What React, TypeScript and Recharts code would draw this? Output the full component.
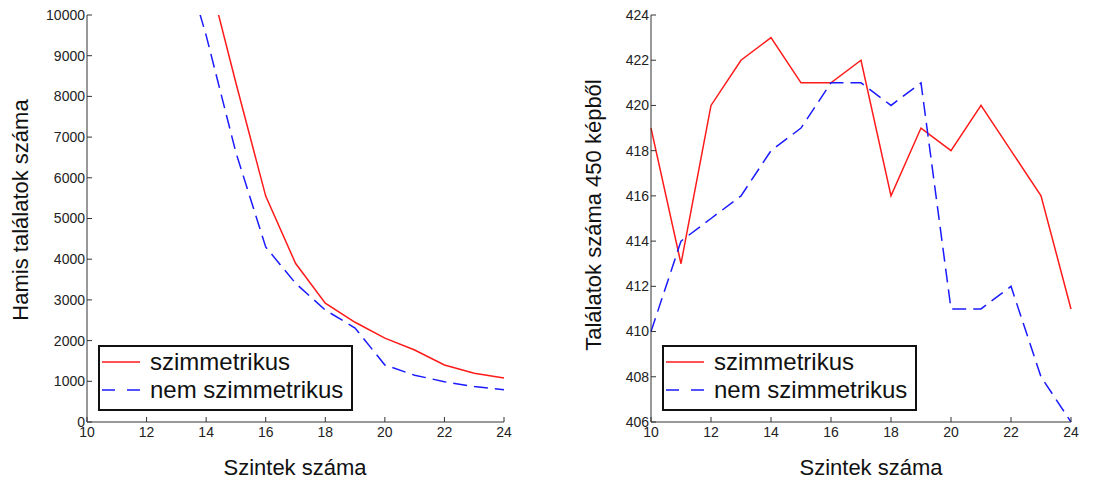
import React from 'react';
import { LineChart, Line, XAxis, YAxis, Legend, Label } from 'recharts';

const levels = [10, 11, 12, 13, 14, 15, 16, 17, 18, 19, 20, 21, 22, 23, 24];
// left chart: false matches (values above 10000 fall outside the visible range)
const falseSym = [38000, 27000, 19000, 14000, 11200, 8330, 5550, 3900, 2920, 2450, 2060, 1770, 1400, 1200, 1080];
const falseNonSym = [32000, 22000, 15500, 12000, 9500, 6620, 4300, 3410, 2750, 2310, 1400, 1150, 990, 870, 790];
// right chart: hits out of 450 images
const hitsSym = [419, 413, 420, 422, 423, 421, 421, 422, 416, 419, 418, 420, 418, 416, 411];
const hitsNonSym = [410, 414, 415, 416, 418, 419, 421, 421, 420, 421, 411, 411, 412, 408, 406];

const xTicks = [10, 12, 14, 16, 18, 20, 22, 24];
const leftYTicks = [0, 1000, 2000, 3000, 4000, 5000, 6000, 7000, 8000, 9000, 10000];
const rightYTicks = [406, 408, 410, 412, 414, 416, 418, 420, 422, 424];

const seriesNames = ['szimmetrikus', 'nem szimmetrikus'];
const xLabel = 'Szintek száma';
const leftYLabel = 'Hamis találatok száma';
const rightYLabel = 'Találatok száma 450 képből';

const leftData = levels.map((x, i) => ({ x, a: falseSym[i], b: falseNonSym[i] }));
const rightData = levels.map((x, i) => ({ x, a: hitsSym[i], b: hitsNonSym[i] }));

const FONT = '"Liberation Sans", Arial, sans-serif';
const RED = '#ff1a1a';
const BLUE = '#1a1aff';
const DASH = '14 7';
const FRAME = '#333';
const TICK_FS = 14;

const BottomTick = (p: any) => (
  <g>
    <line x1={p.x} y1={p.y} x2={p.x} y2={p.y - 5} stroke={FRAME} />
    <text x={p.x} y={p.y + 15} textAnchor="middle" fontSize={TICK_FS} fill="#222" fontFamily={FONT}>
      {p.payload.value}
    </text>
  </g>
);
const TopTick = (p: any) => (
  <line x1={p.x} y1={p.y} x2={p.x} y2={p.y + 5} stroke={FRAME} />
);
const LeftTick = (p: any) => (
  <g>
    <line x1={p.x} y1={p.y} x2={p.x + 5} y2={p.y} stroke={FRAME} />
    <text x={p.x - 2} y={p.y} dy="0.35em" textAnchor="end" fontSize={TICK_FS} fill="#222" fontFamily={FONT}>
      {p.payload.value}
    </text>
  </g>
);
const RightTick = (p: any) => (
  <line x1={p.x} y1={p.y} x2={p.x - 5} y2={p.y} stroke={FRAME} />
);

const LegendBox = () => (
  <div
    style={{
      width: 251,
      height: 62,
      border: '2px solid #111',
      background: '#fff',
      position: 'relative',
      fontFamily: FONT,
      fontSize: 24,
      color: '#111',
    }}
  >
    <svg width={44} height={62} style={{ position: 'absolute', left: 0, top: 0 }}>
      <line x1={2} y1={15} x2={40} y2={15} stroke={RED} strokeWidth={1.5} />
      <line x1={2} y1={43} x2={40} y2={43} stroke={BLUE} strokeWidth={1.5} strokeDasharray="13 12" />
    </svg>
    <div style={{ position: 'absolute', left: 50, top: 1, lineHeight: '28px', whiteSpace: 'nowrap' }}>{seriesNames[0]}</div>
    <div style={{ position: 'absolute', left: 50, top: 29, lineHeight: '28px', whiteSpace: 'nowrap' }}>{seriesNames[1]}</div>
  </div>
);

function Panel(props: {
  data: any[];
  width: number;
  yWidth: number;
  rightMargin: number;
  yDomain: [number, number];
  yTicks: number[];
  yLabel: string;
  yLabelX: number;
  yLabelY: number;
  xLabelX: number;
  legendLeft: number;
}) {
  const { data, width, yWidth, rightMargin, yDomain, yTicks, yLabel, yLabelX, yLabelY, xLabelX, legendLeft } = props;
  return (
    <LineChart width={width} height={481} data={data} margin={{ top: 15, right: rightMargin, bottom: 29, left: 0 }}>
      <XAxis
        dataKey="x"
        type="number"
        domain={[10, 24]}
        ticks={xTicks}
        height={30}
        tickSize={0}
        tickMargin={0}
        tickLine={false}
        tick={<BottomTick />}
        axisLine={{ stroke: FRAME }}
        interval={0}
      >
        <Label
          content={() => (
            <text x={xLabelX} y={475} textAnchor="middle" fontSize={22} fill="#111" fontFamily={FONT}>
              {xLabel}
            </text>
          )}
        />
      </XAxis>
      <XAxis
        xAxisId="top"
        orientation="top"
        dataKey="x"
        type="number"
        domain={[10, 24]}
        ticks={xTicks}
        height={0}
        tickSize={0}
        tickMargin={0}
        tickLine={false}
        tick={<TopTick />}
        axisLine={{ stroke: FRAME }}
        interval={0}
      />
      <YAxis
        type="number"
        domain={yDomain}
        ticks={yTicks}
        allowDataOverflow
        width={yWidth}
        tickSize={0}
        tickMargin={0}
        tickLine={false}
        tick={<LeftTick />}
        axisLine={{ stroke: FRAME }}
        interval={0}
      >
        <Label
          content={() => (
            <text
              x={yLabelX}
              y={yLabelY}
              dy="0.35em"
              textAnchor="middle"
              fontSize={22}
              fill="#111"
              fontFamily={FONT}
              transform={`rotate(-90, ${yLabelX}, ${yLabelY})`}
            >
              {yLabel}
            </text>
          )}
        />
      </YAxis>
      <YAxis
        yAxisId="right"
        orientation="right"
        type="number"
        domain={yDomain}
        ticks={yTicks}
        allowDataOverflow
        width={0}
        tickSize={0}
        tickMargin={0}
        tickLine={false}
        tick={<RightTick />}
        axisLine={{ stroke: FRAME }}
        interval={0}
      />
      <Line
        dataKey="a"
        name={seriesNames[0]}
        stroke={RED}
        strokeWidth={1.5}
        dot={false}
        isAnimationActive={false}
      />
      <Line
        dataKey="b"
        name={seriesNames[1]}
        stroke={BLUE}
        strokeWidth={1.5}
        strokeDasharray={DASH}
        dot={false}
        isAnimationActive={false}
      />
      <Legend
        layout="horizontal"
        align="center"
        verticalAlign="middle"
        content={<LegendBox />}
        wrapperStyle={{ left: legendLeft, top: 345, width: 255, height: 66, position: 'absolute' }}
      />
    </LineChart>
  );
}

export default function App() {
  return (
    <div style={{ position: 'absolute', left: 0, top: 0, width: 1102, height: 481, background: '#fff' }}>
      <div style={{ position: 'absolute', left: 0, top: 0 }}>
        <Panel
          data={leftData}
          width={530}
          yWidth={87}
          rightMargin={26}
          yDomain={[0, 10000]}
          yTicks={leftYTicks}
          yLabel={leftYLabel}
          yLabelX={20}
          yLabelY={210}
          xLabelX={295}
          legendLeft={98}
        />
      </div>
      <div style={{ position: 'absolute', left: 560, top: 0 }}>
        <Panel
          data={rightData}
          width={542}
          yWidth={91}
          rightMargin={31}
          yDomain={[406, 424]}
          yTicks={rightYTicks}
          yLabel={rightYLabel}
          yLabelX={33}
          yLabelY={215}
          xLabelX={311}
          legendLeft={102}
        />
      </div>
    </div>
  );
}
